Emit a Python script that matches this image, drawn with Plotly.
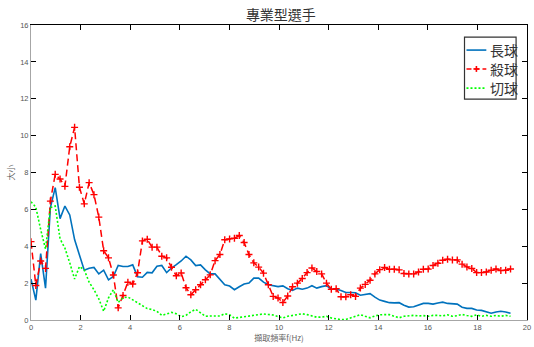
import plotly.graph_objects as go

# FFT bin frequencies (Hz): 50 Hz sampling, 256-point transform, first 100 bins
fs = 50
nfft = 256
freq = [k * fs / nfft for k in range(100)]

long_ball = [2.22, 1.08, 3.6, 1.73, 6.1, 7.18, 5.5, 6.18, 5.7, 4.36,
             3.53, 2.7, 2.81, 2.85, 2.5, 2.7, 2.18, 2.36, 2.96, 2.9,
             2.9, 2.99, 2.35, 2.32, 2.58, 2.56, 2.92, 2.96, 2.57, 2.82,
             3.0, 3.2, 3.46, 3.26, 2.95, 2.99, 2.72, 2.5, 2.5, 2.2,
             1.91, 1.84, 1.64, 1.8, 1.95, 2.0, 2.27, 2.27, 2.05, 1.91,
             1.85, 1.81, 1.85, 1.7, 1.6, 1.73, 1.67, 1.73, 1.86, 1.73,
             1.81, 1.86, 1.67, 1.68, 1.6, 1.49, 1.49, 1.48, 1.34, 1.38,
             1.43, 1.24, 1.08, 1.01, 0.94, 0.93, 0.94, 0.8, 0.7, 0.72,
             0.8, 0.9, 0.9, 0.86, 0.92, 0.97, 0.9, 0.9, 0.86, 0.69,
             0.63, 0.63, 0.54, 0.52, 0.45, 0.37, 0.43, 0.47, 0.43, 0.37]

smash = [4.25, 1.87, 3.2, 2.8, 6.45, 7.9, 7.65, 7.25, 9.4, 10.45,
         7.2, 6.3, 7.45, 6.8, 5.58, 3.76, 3.37, 2.44, 0.66, 1.33,
         2.05, 1.95, 2.56, 4.29, 4.38, 3.95, 3.95, 3.46, 3.37, 2.86,
         2.4, 2.55, 1.75, 1.37, 1.64, 1.91, 2.18, 2.45, 3.22, 3.55,
         4.35, 4.4, 4.43, 4.58, 4.2, 3.55, 3.1, 2.87, 2.54, 1.91,
         1.28, 1.19, 0.95, 1.3, 1.8, 2.0, 2.25, 2.57, 2.82, 2.63,
         2.5, 2.0, 1.67, 1.7, 1.26, 1.26, 1.37, 1.28, 1.73, 1.93,
         2.16, 2.5, 2.73, 2.85, 2.75, 2.75, 2.72, 2.52, 2.5, 2.5,
         2.6, 2.75, 2.76, 2.96, 3.08, 3.24, 3.3, 3.26, 3.26, 3.03,
         2.88, 2.79, 2.57, 2.57, 2.6, 2.7, 2.77, 2.68, 2.7, 2.77]

drop = [6.41, 6.12, 4.9, 3.85, 6.1, 6.18, 4.4, 3.9, 3.1, 2.22,
        2.9, 2.72, 2.05, 1.64, 1.15, 0.47, 1.2, 1.64, 0.95, 1.2,
        1.25, 1.1, 0.92, 0.76, 0.62, 0.57, 0.47, 0.25, 0.33, 0.41,
        0.34, 0.18, 0.25, 0.45, 0.58, 0.4, 0.2, 0.22, 0.24, 0.22,
        0.34, 0.28, 0.1, 0.14, 0.2, 0.22, 0.29, 0.3, 0.33, 0.3,
        0.27, 0.18, 0.11, 0.2, 0.24, 0.29, 0.34, 0.29, 0.22, 0.15,
        0.16, 0.2, 0.11, 0.05, 0.02, 0.03, 0.12, 0.24, 0.29, 0.2,
        0.12, 0.22, 0.28, 0.29, 0.29, 0.2, 0.12, 0.2, 0.23, 0.25,
        0.22, 0.24, 0.2, 0.25, 0.25, 0.22, 0.28, 0.2, 0.23, 0.3,
        0.24, 0.2, 0.28, 0.2, 0.25, 0.2, 0.25, 0.2, 0.25, 0.2]

series_names = ["長球", "殺球", "切球"]
x_ticks = [0, 2, 4, 6, 8, 10, 12, 14, 16, 18, 20]
y_ticks = [0, 2, 4, 6, 8, 10, 12, 14, 16]

BLUE = "#0072BD"
RED = "#FF0000"
GREEN = "#00FF00"
CJK = "Noto Sans CJK TC"
LATIN = "Liberation Sans, Arial, sans-serif"

fig = go.Figure()
fig.add_trace(go.Scatter(x=freq, y=long_ball, name=series_names[0], mode="lines",
                         line=dict(color=BLUE, width=1.6)))
fig.add_trace(go.Scatter(x=freq, y=smash, name=series_names[1], mode="lines+markers",
                         line=dict(color=RED, width=1.5, dash="7px,4px"),
                         marker=dict(symbol="cross-thin", size=5, color=RED,
                                     line=dict(color=RED, width=1.4))))
fig.add_trace(go.Scatter(x=freq, y=drop, name=series_names[2], mode="lines",
                         line=dict(color=GREEN, width=1.6, dash="2px,2px")))

axis_common = dict(ticks="inside", ticklen=5, tickwidth=1, tickcolor="#000000",
                   showgrid=False, zeroline=False, showline=True)

fig.update_layout(
    width=534, height=347,
    margin=dict(l=31, r=3, t=25, b=27),
    paper_bgcolor="white", plot_bgcolor="white",
    showlegend=False,
    title=dict(text="專業型選手", x=0.526, xanchor="center", y=0.957, yanchor="middle",
               font=dict(family=CJK, size=14, color="#333333")),
    xaxis=dict(range=[0, 20], tickvals=x_ticks, linecolor="#a6a6a6", linewidth=1,
               ticklabeloverflow="allow",
               tickfont=dict(family=LATIN, size=7.5, color="#555555"),
               title=dict(text="擷取頻率f(Hz)", standoff=2,
                          font=dict(family=CJK, size=8, color="#666666")),
               **axis_common),
    yaxis=dict(range=[0, 16], tickvals=y_ticks, linecolor="#a6a6a6", linewidth=1,
               ticklabeloverflow="allow",
               tickfont=dict(family=LATIN, size=7.5, color="#555555"),
               title=dict(text="大小", standoff=4,
                          font=dict(family=CJK, size=8, color="#666666")),
               **axis_common),
    xaxis2=dict(range=[0, 20], tickvals=x_ticks, overlaying="x", side="top",
                showticklabels=False, linecolor="#000000", linewidth=1, **axis_common),
    yaxis2=dict(range=[0, 16], tickvals=y_ticks, overlaying="y", side="right",
                showticklabels=False, linecolor="#000000", linewidth=1, **axis_common),
)

# invisible carriers so the mirrored top/right axes are drawn
fig.add_trace(go.Scatter(x=[0], y=[0], xaxis="x2", yaxis="y2", mode="markers",
                         marker=dict(opacity=0), hoverinfo="skip", showlegend=False))

# legend box drawn in paper coordinates
box = dict(x0=0.874, x1=0.978, y0=0.749, y1=0.959)
fig.add_shape(type="rect", xref="paper", yref="paper", **box,
              line=dict(color="#333333", width=1.2), fillcolor="white", layer="above")
entry_y = [0.915, 0.851, 0.786]
styles = [dict(color=BLUE, width=1.6),
          dict(color=RED, width=1.5, dash="5px,3px"),
          dict(color=GREEN, width=1.6, dash="2px,2px")]
for yy, st, label in zip(entry_y, styles, series_names):
    fig.add_shape(type="line", xref="paper", yref="paper", x0=0.878, x1=0.918,
                  y0=yy, y1=yy, line=st, layer="above")
    fig.add_annotation(xref="paper", yref="paper", x=0.921, y=yy, text=label,
                       showarrow=False, xanchor="left", yanchor="middle",
                       font=dict(family=CJK, size=14, color="#333333"))
# plus marker on the smash legend sample
mx, my = 0.898, entry_y[1]
fig.add_shape(type="line", xref="paper", yref="paper", x0=mx - 0.006, x1=mx + 0.006,
              y0=my, y1=my, line=dict(color=RED, width=1.6), layer="above")
fig.add_shape(type="line", xref="paper", yref="paper", x0=mx, x1=mx,
              y0=my - 0.01, y1=my + 0.01, line=dict(color=RED, width=1.6), layer="above")

fig.write_html("out.html")
